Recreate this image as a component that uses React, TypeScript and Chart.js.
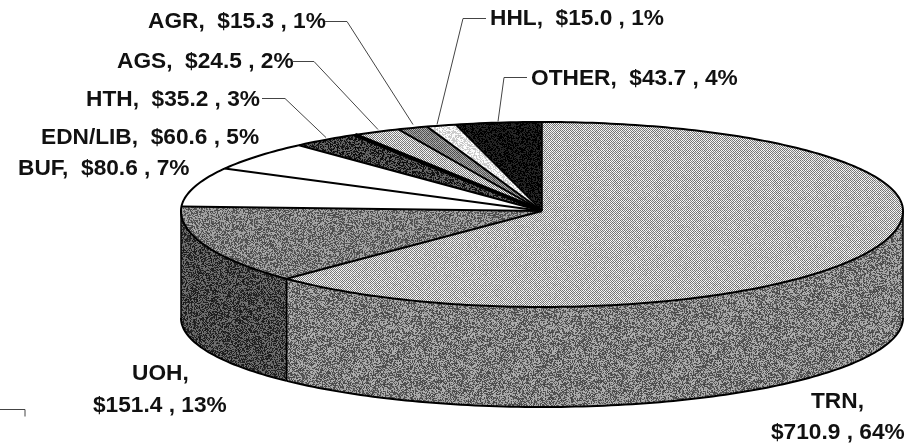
import React, { useEffect, useRef } from "react";
import Chart from "chart.js/auto";

const categories = ["TRN", "UOH", "BUF", "EDN/LIB", "HTH", "AGS", "AGR", "HHL", "OTHER"];
const amounts = [710.9, 151.4, 80.6, 60.6, 35.2, 24.5, 15.3, 15.0, 43.7];
const percents = [64, 13, 7, 5, 3, 2, 1, 1, 4];

// [mean grey, spread, checker 0/1]
const topTextures: number[][] = [
  [182, 120, 1], [122, 110, 0], [255, 0, 0], [255, 0, 0], [58, 110, 0],
  [182, 120, 1], [125, 90, 1], [228, 70, 0], [14, 60, 0],
];
const sideTextures: number[][] = [
  [124, 120, 0], [70, 100, 0], [60, 100, 0], [60, 100, 0], [60, 100, 0],
  [60, 100, 0], [60, 100, 0], [60, 100, 0], [60, 100, 0],
];
// width of the line that starts each slice
const separatorWidths = [1.6, 2, 2, 2, 2, 4, 2, 2, 1.6];

const labelLayout = [
  { lines: 2, x: [811, 771], y: [408, 439] },
  { lines: 2, x: [132, 93], y: [380, 412] },
  { lines: 1, x: [18], y: [175] },
  { lines: 1, x: [41], y: [144] },
  { lines: 1, x: [86], y: [106] },
  { lines: 1, x: [117], y: [68] },
  { lines: 1, x: [148], y: [28] },
  { lines: 1, x: [490], y: [25] },
  { lines: 1, x: [531], y: [85] },
];
const leaders: number[][][] = [
  [[325, 21], [347, 21], [413, 124]],
  [[292, 61], [314, 61], [378, 129]],
  [[262, 98], [285, 98], [326, 137]],
  [[486, 18], [463, 18], [437, 124]],
  [[527, 77], [504, 77], [498, 121]],
  [[0, 409], [25, 409], [25, 416]],
];

const CX = 542, CY = 211, RX = 361, RY_UP = 89, RY_DOWN = 96;
const BOT_CY = 318, BOT_RY = 89;

function makeTexture(mean: number, spread: number, checker: number, seed: number) {
  const size = 160;
  const c = document.createElement("canvas");
  c.width = c.height = size;
  const g = c.getContext("2d")!;
  const img = g.createImageData(size, size);
  let s = (seed * 2654435761 + 12345) >>> 0;
  for (let y = 0; y < size; y++) {
    for (let x = 0; x < size; x++) {
      s ^= s << 13; s >>>= 0; s ^= s >>> 17; s ^= s << 5; s >>>= 0;
      const n = s / 4294967296;
      let v: number;
      if (checker) {
        v = mean + ((x + y) & 1 ? spread / 2 : -spread / 2) + (n - 0.5) * 30;
      } else {
        const pick = n < 0.5 ? -1 : 1;
        v = mean + pick * spread * 0.5 * (0.4 + ((n * 97) % 1) * 0.6);
      }
      v = Math.max(0, Math.min(255, v));
      const i = (y * size + x) * 4;
      img.data[i] = img.data[i + 1] = img.data[i + 2] = v;
      img.data[i + 3] = 255;
    }
  }
  g.putImageData(img, 0, 0);
  return g.createPattern(c, "repeat")!;
}

export default function App() {
  const ref = useRef<HTMLCanvasElement | null>(null);
  useEffect(() => {
    const canvas = ref.current!;
    const tops = topTextures.map((t, i) => makeTexture(t[0], t[1], t[2], i + 1));
    const sides = sideTextures.map((t, i) => makeTexture(t[0], t[1], t[2], i + 21));

    const pie3d = {
      id: "pie3d",
      beforeDatasetsDraw(chart: any) {
        const ctx: CanvasRenderingContext2D = chart.ctx;
        const arcs = chart.getDatasetMeta(0).data as any[];
        const R = arcs[0].outerRadius;
        const ax = arcs[0].x, ay = arcs[0].y;
        const topPt = (a: number) => [
          CX + RX * Math.cos(a),
          CY + (Math.sin(a) < 0 ? RY_UP : RY_DOWN) * Math.sin(a),
        ];
        const botPt = (a: number) => [CX + RX * Math.cos(a), BOT_CY + BOT_RY * Math.sin(a)];

        // rim of the pie, taken from each slice's angles
        ctx.save();
        arcs.forEach((arc, i) => {
          const a0 = Math.max(arc.startAngle, 0);
          const a1 = Math.min(arc.endAngle, Math.PI);
          if (a1 <= a0) return;
          const n = Math.max(4, Math.ceil((a1 - a0) / 0.02));
          const top: number[][] = [], bot: number[][] = [];
          for (let k = 0; k <= n; k++) {
            const a = a0 + ((a1 - a0) * k) / n;
            top.push(topPt(a));
            bot.push(botPt(a));
          }
          ctx.beginPath();
          top.forEach((p, k) => (k ? ctx.lineTo(p[0], p[1]) : ctx.moveTo(p[0], p[1])));
          bot.reverse().forEach((p) => ctx.lineTo(p[0], p[1]));
          ctx.closePath();
          ctx.fillStyle = sides[i];
          ctx.fill();
          ctx.lineWidth = 2;
          ctx.strokeStyle = "#000";
          ctx.beginPath();
          bot.forEach((p, k) => (k ? ctx.lineTo(p[0], p[1]) : ctx.moveTo(p[0], p[1])));
          ctx.stroke();
          ctx.lineWidth = 1.5;
          ctx.beginPath();
          ctx.moveTo(top[0][0], top[0][1]);
          ctx.lineTo(bot[bot.length - 1][0], bot[bot.length - 1][1]);
          ctx.moveTo(top[n][0], top[n][1]);
          ctx.lineTo(bot[0][0], bot[0][1]);
          ctx.stroke();
        });
        ctx.restore();

        // top face: the library's arcs, squeezed to an ellipse
        [
          { ry: RY_UP, y0: 0, h: CY },
          { ry: RY_DOWN, y0: CY, h: 446 - CY },
        ].forEach(({ ry, y0, h }) => {
          ctx.save();
          ctx.beginPath();
          ctx.rect(0, y0, 921, h);
          ctx.clip();
          ctx.translate(CX, CY);
          ctx.scale(RX / R, ry / R);
          ctx.translate(-ax, -ay);
          const inv = ctx.getTransform().inverse();
          tops.forEach((p) => p.setTransform(inv));
          arcs.forEach((arc) => arc.draw(ctx));
          ctx.restore();
        });

        // outlines in device pixels
        ctx.save();
        ctx.strokeStyle = "#000";
        ctx.lineJoin = "round";
        arcs.forEach((arc, i) => {
          const p = topPt(arc.startAngle);
          ctx.lineWidth = separatorWidths[i];
          ctx.beginPath();
          ctx.moveTo(CX, CY);
          ctx.lineTo(p[0], p[1]);
          ctx.stroke();
        });
        ctx.lineWidth = 2;
        ctx.beginPath();
        const start = arcs[0].startAngle;
        for (let k = 0; k <= 360; k++) {
          const q = topPt(start + (k / 360) * Math.PI * 2);
          k ? ctx.lineTo(q[0], q[1]) : ctx.moveTo(q[0], q[1]);
        }
        ctx.stroke();
        ctx.restore();
        return false;
      },
      afterDraw(chart: any) {
        const ctx: CanvasRenderingContext2D = chart.ctx;
        ctx.save();
        ctx.fillStyle = "#111";
        ctx.font = 'bold 22.7px "Liberation Sans", Arial, sans-serif';
        ctx.textAlign = "left";
        ctx.textBaseline = "alphabetic";
        categories.forEach((cat, i) => {
          const l = labelLayout[i];
          const val = `$${amounts[i].toFixed(1)} , ${percents[i]}%`;
          if (l.lines === 2) {
            ctx.fillText(`${cat},`, l.x[0], l.y[0]);
            ctx.fillText(val, l.x[1], l.y[1]);
          } else {
            ctx.fillText(`${cat},  ${val}`, l.x[0], l.y[0]);
          }
        });
        ctx.strokeStyle = "#444";
        ctx.lineWidth = 1;
        leaders.forEach((pts) => {
          ctx.beginPath();
          pts.forEach((p, k) => (k ? ctx.lineTo(p[0], p[1] + 0.5) : ctx.moveTo(p[0], p[1] + 0.5)));
          ctx.stroke();
        });
        ctx.restore();
      },
    };

    const chart = new Chart(canvas, {
      type: "pie",
      data: {
        labels: categories,
        datasets: [{ data: amounts, backgroundColor: tops, borderWidth: 0 }],
      },
      options: {
        animation: false,
        responsive: false,
        rotation: 0,
        plugins: { legend: { display: false }, tooltip: { enabled: false } },
      },
      plugins: [pie3d],
    } as any);
    return () => chart.destroy();
  }, []);

  return (
    <div style={{ position: "absolute", left: 0, top: 0, width: 921, height: 446, background: "#fff" }}>
      <canvas ref={ref} width={921} height={446} style={{ display: "block" }} />
    </div>
  );
}
